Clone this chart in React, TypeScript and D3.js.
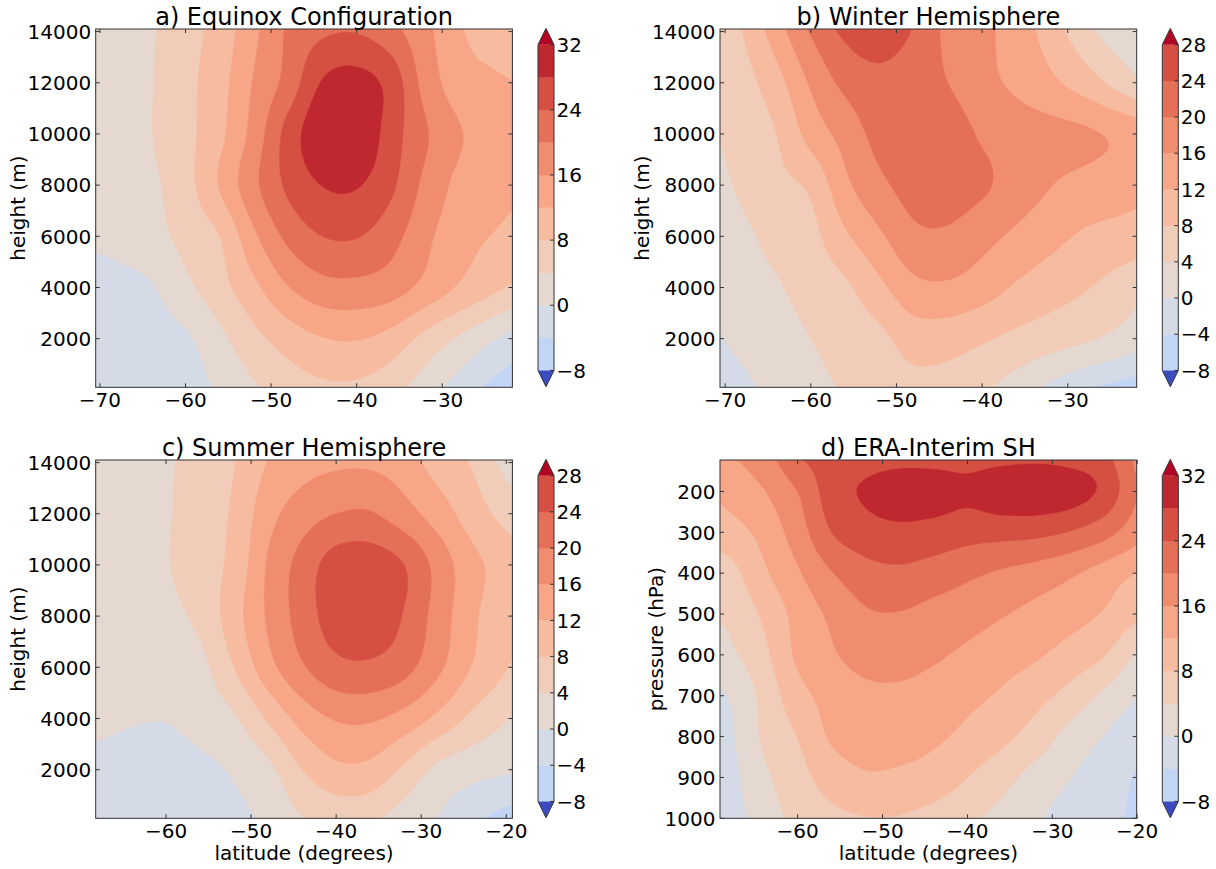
import React, { useMemo } from "react";
import * as d3 from "d3";

// ---------------------------------------------------------------------------
// Grid nodes
// ---------------------------------------------------------------------------
const LAT_NODES_AB = [-72, -68, -64, -60, -56, -52, -48, -44, -40, -36, -32, -28, -24, -20];
const LAT_NODES_C = [-72, -68, -64, -60, -56, -52, -48, -44, -40, -36, -32, -28, -24, -20, -16];
const LAT_NODES_D = [-72, -68, -64, -60, -56, -52, -48, -44, -40, -36, -32, -28, -24, -20];
// model levels, top row first (m)
const HEIGHT_NODES = [14100, 12000, 10000, 8000, 6000, 4000, 2000, 100];
// reanalysis levels, top row first (hPa)
const PRESSURE_NODES = [123, 200, 300, 400, 500, 600, 700, 800, 900, 1000];

// ---------------------------------------------------------------------------
// Zonal-mean zonal wind (m/s); rows follow the node arrays above
// ---------------------------------------------------------------------------
const U_EQUINOX = [
  [0.5, 1.5, 3.6, 6.5, 9.5, 15, 20.5, 23, 23.5, 21, 17, 12.5, 9, 7],
  [0.5, 1.5, 3.8, 6.8, 10.5, 16.3, 21.5, 28.3, 29.5, 26.5, 18.5, 14, 12.8, 11.5],
  [0.5, 1.5, 3.9, 6.8, 11, 17.5, 25.5, 31, 31.5, 26, 20.5, 16.3, 14.5, 13.8],
  [0.3, 1.3, 3.2, 6.5, 12.3, 19, 24.8, 28.1, 28.3, 24.8, 19, 15, 13.5, 12.5],
  [0.2, 1.0, 2.5, 5.2, 8, 15.2, 21, 24, 24.2, 21.5, 17, 13.5, 11.8, 10],
  [-1.5, -1.2, -0.3, 3, 6.5, 11, 15.8, 18.5, 18.8, 17.8, 14.8, 11.5, 8.8, 6.5],
  [-2.5, -2.4, -1.8, -0.6, 3, 6.8, 9.8, 11.8, 12.2, 10.5, 6.8, 3.5, 0.3, -2.8],
  [-3, -3, -2.8, -2, 0.6, 3.5, 5.8, 7.2, 7.2, 5.3, 2, -1.7, -5, -7],
];

const U_WINTER = [
  [6, 8.1, 14.3, 20.5, 25, 26.5, 23.8, 19, 17, 14, 10, 5, 1.5, 0.5],
  [5.5, 6.5, 10.5, 16.5, 21, 22.8, 21.8, 20, 17.2, 15.2, 12.8, 10, 6.5, 3],
  [3.5, 5.5, 8, 13.5, 17.5, 21.3, 22.5, 22, 19.5, 18, 17.3, 16.6, 15.2, 13.5],
  [2.5, 4.6, 7, 8.8, 15, 19, 21.5, 21.8, 20.6, 18.2, 16.1, 14.8, 13.8, 12.8],
  [2, 3.2, 5.3, 6.8, 11.3, 15.3, 19, 19.3, 17.3, 15.2, 13.2, 11.4, 10.5, 9.5],
  [1.2, 2, 3.6, 5.6, 7.3, 11, 14.8, 15.3, 13.8, 11.5, 9.7, 8.3, 6.3, 4.5],
  [-0.7, 0.8, 2.2, 4, 5.6, 7.0, 9.8, 9.7, 8.5, 7, 5.8, 4.5, 2.8, 0.2],
  [-1.8, -0.7, 1.2, 2.8, 4.4, 5.8, 6.6, 6.3, 4.6, 2.2, -0.8, -3.4, -5.2, -6.3],
];

const U_SUMMER = [
  [0.5, 1, 2, 3.5, 5.5, 7.8, 12, 14, 15, 15, 13.5, 10, 7.5, 2.5, 0],
  [0.5, 1, 2, 3.6, 6, 8.6, 14.5, 18, 20, 20.3, 17.6, 14, 10, 6.5, 3],
  [0.4, 1, 2, 3.7, 6.2, 9.2, 16.4, 21.5, 25.8, 26.2, 24, 18.5, 13.2, 10.3, 8],
  [0.3, 0.9, 1.8, 3, 5, 10.3, 16.5, 21.7, 26, 26.7, 23.7, 18.2, 12.8, 9.2, 7],
  [0.5, 0.8, 1.5, 2.5, 2.9, 8, 14.5, 19.5, 22.8, 23.2, 21.3, 16.8, 11.8, 8.2, 5],
  [1, 0.8, 0.3, 0.2, 1.5, 3.5, 8.5, 13.5, 16.3, 16.5, 14.5, 11, 7, 4.2, 1.5],
  [-1, -1.2, -1.8, -2, -1, 0.5, 3, 8, 11, 10.8, 7.2, 3, 1.4, 0.5, -0.5],
  [-2.2, -2.4, -2.8, -3, -2.5, -1, 0.7, 3.8, 5, 4.8, 2, -0.2, -3, -5.5, -7],
];

const U_ERA_INTERIM = [
  [13, 15.5, 18, 23.5, 25.5, 26.5, 27, 27, 26.8, 27.2, 27.5, 27, 25.5, 19],
  [11, 13.5, 15.8, 20, 26, 28.5, 30, 29.8, 28.9, 30.5, 31, 30, 27, 20],
  [8.5, 10.3, 13.3, 18, 24, 26.3, 27, 26.5, 25.5, 25.3, 25, 23.8, 21.5, 17.5],
  [5.5, 6.7, 11.3, 15.5, 19.8, 22.5, 23.2, 22.2, 20.8, 19.5, 18.3, 16.7, 14.3, 11.8],
  [3.8, 4.8, 8.7, 13.3, 16.8, 19.5, 19.8, 18.7, 17.7, 16.3, 14.9, 13.6, 11.7, 8.8],
  [1.5, 3.2, 7, 12.7, 15.5, 17.5, 17.6, 16.6, 15.2, 13.8, 12.5, 10.5, 8.3, 3.3],
  [-1.2, 0.2, 5.2, 10.5, 13.5, 15, 15.2, 14.3, 13, 11.5, 9.3, 6.7, 3.3, 0],
  [-2.2, -0.6, 4.6, 8.1, 12.5, 13.7, 13.6, 12.7, 11, 9, 6.3, 2.7, 0, -2.8],
  [-3, -1.2, 3.2, 6.5, 9.8, 11.5, 11.2, 10.2, 8, 5.5, 2.5, 0.2, -2.2, -4.3],
  [-3.5, -1.8, 2, 5, 6.8, 7.8, 7.7, 6.5, 5, 2.5, 0.5, -1.8, -3.2, -4.5],
];

// ---------------------------------------------------------------------------
// Ticks and contour levels
// ---------------------------------------------------------------------------
const LAT_TICKS_AB = [-70, -60, -50, -40, -30];
const LAT_TICKS_CD = [-60, -50, -40, -30, -20];
const HEIGHT_TICKS = [2000, 4000, 6000, 8000, 10000, 12000, 14000];
const PRESSURE_TICKS = [200, 300, 400, 500, 600, 700, 800, 900, 1000];
const LEVELS_TO_32 = [-8, -4, 0, 4, 8, 12, 16, 20, 24, 28, 32];
const LEVELS_TO_28 = [-8, -4, 0, 4, 8, 12, 16, 20, 24, 28];
const CBAR_LABELS_TO_32 = [-8, 0, 8, 16, 24, 32];
const CBAR_LABELS_TO_28 = [-8, -4, 0, 4, 8, 12, 16, 20, 24, 28];

// coolwarm diverging map, 33 stops spanning -32..32 m/s
const COOLWARM = [
  "#3b4cc0", "#445acc", "#4d68d7", "#5775e1", "#6282ea", "#6c8ef1", "#779af7", "#82a5fb",
  "#8db0fe", "#98b9ff", "#a3c2ff", "#aec9fd", "#b8d0f9", "#c2d5f4", "#ccd9ee", "#d5dbe6",
  "#dddddd", "#e5d8d1", "#ecd3c5", "#f1ccb9", "#f5c4ad", "#f7bba0", "#f7b194", "#f7a687",
  "#f49a7b", "#f18d6f", "#ec7f63", "#e57058", "#de604d", "#d55042", "#cb3e38", "#c0282f",
  "#b40426",
];
const color = d3
  .scaleLinear<string>()
  .domain(COOLWARM.map((_, i) => -32 + 2 * i))
  .range(COOLWARM)
  .interpolate(d3.interpolateRgb)
  .clamp(true);
const UNDER = color(-32);
const OVER = color(32);
const bandColor = (lo: number, hi: number) => color((lo + hi) / 2);

// ---------------------------------------------------------------------------
// Layout
// ---------------------------------------------------------------------------
const COL_LEFT = [95.7, 720];
const PLOT_W = 416.7;
const ROW_TOP = [29, 460];
const PLOT_H = 358.3;

const PANELS = [
  {
    id: "a", title: "a) Equinox Configuration", grid: U_EQUINOX, latNodes: LAT_NODES_AB, rowNodes: HEIGHT_NODES,
    xDomain: [-70.5, -21.8], yDomain: [100, 14100], xTicks: LAT_TICKS_AB, yTicks: HEIGHT_TICKS,
    levels: LEVELS_TO_32, cbarLabels: CBAR_LABELS_TO_32, ylabel: "height (m)", xlabel: null,
    col: 0, row: 0, ylabelOffset: 71,
  },
  {
    id: "b", title: "b) Winter Hemisphere", grid: U_WINTER, latNodes: LAT_NODES_AB, rowNodes: HEIGHT_NODES,
    xDomain: [-70.6, -21.95], yDomain: [100, 14100], xTicks: LAT_TICKS_AB, yTicks: HEIGHT_TICKS,
    levels: LEVELS_TO_28, cbarLabels: CBAR_LABELS_TO_28, ylabel: "height (m)", xlabel: null,
    col: 1, row: 0, ylabelOffset: 71,
  },
  {
    id: "c", title: "c) Summer Hemisphere", grid: U_SUMMER, latNodes: LAT_NODES_C, rowNodes: HEIGHT_NODES,
    xDomain: [-68.27, -19.28], yDomain: [100, 14100], xTicks: LAT_TICKS_CD, yTicks: HEIGHT_TICKS,
    levels: LEVELS_TO_28, cbarLabels: CBAR_LABELS_TO_28, ylabel: "height (m)", xlabel: "latitude (degrees)",
    col: 0, row: 1, ylabelOffset: 71,
  },
  {
    id: "d", title: "d) ERA-Interim SH", grid: U_ERA_INTERIM, latNodes: LAT_NODES_D, rowNodes: PRESSURE_NODES,
    xDomain: [-69.15, -20.06], yDomain: [1000, 123], xTicks: LAT_TICKS_CD, yTicks: PRESSURE_TICKS,
    levels: LEVELS_TO_32, cbarLabels: CBAR_LABELS_TO_32, ylabel: "pressure (hPa)", xlabel: "latitude (degrees)",
    col: 1, row: 1, ylabelOffset: 57.5,
  },
];

// ---------------------------------------------------------------------------
// Smooth refinement of the coarse grid (separable Catmull-Rom) for contouring
// ---------------------------------------------------------------------------
const REFINE = 12;

function catmull(p0: number, p1: number, p2: number, p3: number, t: number) {
  const t2 = t * t;
  const t3 = t2 * t;
  return 0.5 * (2 * p1 + (-p0 + p2) * t + (2 * p0 - 5 * p1 + 4 * p2 - p3) * t2 + (-p0 + 3 * p1 - 3 * p2 + p3) * t3);
}

function sample(grid: number[][], r: number, c: number): number {
  const R = grid.length;
  const C = grid[0].length;
  if (r < 0) return 2 * sample(grid, 0, c) - sample(grid, 1, c);
  if (r > R - 1) return 2 * sample(grid, R - 1, c) - sample(grid, R - 2, c);
  if (c < 0) return 2 * grid[r][0] - grid[r][1];
  if (c > C - 1) return 2 * grid[r][C - 1] - grid[r][C - 2];
  return grid[r][c];
}

function refine(grid: number[][], k: number) {
  const R = grid.length;
  const C = grid[0].length;
  const nx = (C - 1) * k + 1;
  const ny = (R - 1) * k + 1;
  const values = new Array(nx * ny);
  for (let j = 0; j < ny; j++) {
    const v = j / k;
    const r = Math.min(R - 2, Math.floor(v));
    const tv = v - r;
    for (let i = 0; i < nx; i++) {
      const u = i / k;
      const c = Math.min(C - 2, Math.floor(u));
      const tu = u - c;
      const col = [-1, 0, 1, 2].map((dr) =>
        catmull(sample(grid, r + dr, c - 1), sample(grid, r + dr, c), sample(grid, r + dr, c + 1), sample(grid, r + dr, c + 2), tu)
      );
      values[j * nx + i] = catmull(col[0], col[1], col[2], col[3], tv);
    }
  }
  return { nx, ny, values };
}

// fractional node index -> coordinate (piecewise linear, extrapolated at ends)
function nodeInterp(nodes: number[]) {
  return (f: number) => {
    const n = nodes.length;
    const i = Math.max(0, Math.min(n - 2, Math.floor(f)));
    const t = f - i;
    return nodes[i] + (nodes[i + 1] - nodes[i]) * t;
  };
}

const fmt = (v: number) => (v < 0 ? "\u2212" + Math.abs(v) : String(v));

const FONT = "'DejaVu Sans', 'Bitstream Vera Sans', sans-serif";
const AXIS_COLOR = "#333";

function ContourPanel({ spec }: { spec: any }) {
  const left = COL_LEFT[spec.col];
  const right = left + PLOT_W;
  const top = ROW_TOP[spec.row];
  const bottom = top + PLOT_H;

  const x = d3.scaleLinear().domain(spec.xDomain).range([left, right]);
  const y = d3.scaleLinear().domain(spec.yDomain).range([bottom, top]);

  const bands = useMemo(() => {
    const field = refine(spec.grid, REFINE);
    const colAt = nodeInterp(spec.latNodes);
    const rowAt = nodeInterp(spec.rowNodes);
    const proj = d3.geoTransform({
      point: function (px: number, py: number) {
        (this as any).stream.point(x(colAt((px - 0.5) / REFINE)), y(rowAt((py - 0.5) / REFINE)));
      },
    });
    const path = d3.geoPath(proj);
    const levels: number[] = spec.levels;
    const polys = d3.contours().size([field.nx, field.ny]).thresholds(levels)(field.values);
    return polys.map((c, i) => ({
      d: path(c as any) || "",
      fill: i < levels.length - 1 ? bandColor(levels[i], levels[i + 1]) : OVER,
    }));
  }, [spec]);

  const clipId = `clip-${spec.id}`;
  const tickLen = 4;

  // colorbar geometry
  const levels: number[] = spec.levels;
  const cbX0 = right + 25.6;
  const cbX1 = cbX0 + 16;
  const cbXm = (cbX0 + cbX1) / 2;
  const tipTop = top - 0.6;
  const tipBottom = bottom - 0.6;
  const total = tipBottom - tipTop;
  const triH = (total / 1.1) * 0.05;
  const barTop = tipTop + triH;
  const barBottom = tipBottom - triH;
  const cb = d3.scaleLinear().domain([levels[0], levels[levels.length - 1]]).range([barBottom, barTop]);

  return (
    <g>
      <defs>
        <clipPath id={clipId}>
          <rect x={left} y={top} width={right - left} height={bottom - top} />
        </clipPath>
      </defs>
      <g clipPath={`url(#${clipId})`}>
        <rect x={left} y={top} width={right - left} height={bottom - top} fill={UNDER} />
        {bands.map((b, i) => (
          <path key={i} d={b.d} fill={b.fill} stroke={b.fill} strokeWidth={0.4} />
        ))}
      </g>

      {/* frame and inward ticks on all sides */}
      <rect x={left} y={top} width={right - left} height={bottom - top} fill="none" stroke={AXIS_COLOR} strokeWidth={1} />
      {spec.xTicks.map((t: number) => (
        <g key={`xt${t}`} stroke={AXIS_COLOR} strokeWidth={1}>
          <line x1={x(t)} x2={x(t)} y1={bottom} y2={bottom - tickLen} />
          <line x1={x(t)} x2={x(t)} y1={top} y2={top + tickLen} />
        </g>
      ))}
      {spec.yTicks.map((t: number) => (
        <g key={`yt${t}`} stroke={AXIS_COLOR} strokeWidth={1}>
          <line x1={left} x2={left + tickLen} y1={y(t)} y2={y(t)} />
          <line x1={right} x2={right - tickLen} y1={y(t)} y2={y(t)} />
        </g>
      ))}
      <g fontFamily={FONT} fontSize={20} fill="#000">
        {spec.xTicks.map((t: number) => (
          <text key={`xl${t}`} x={x(t)} y={bottom + 20} textAnchor="middle">
            {fmt(t)}
          </text>
        ))}
        {spec.yTicks.map((t: number) => (
          <text key={`yl${t}`} x={left - 4.5} y={y(t)} dy="0.36em" textAnchor="end">
            {fmt(t)}
          </text>
        ))}
        <text
          transform={`translate(${left - spec.ylabelOffset},${(top + bottom) / 2}) rotate(-90)`}
          textAnchor="middle"
        >
          {spec.ylabel}
        </text>
        {spec.xlabel && (
          <text x={(left + right) / 2} y={bottom + 42} textAnchor="middle">
            {spec.xlabel}
          </text>
        )}
        <text x={(left + right) / 2} y={top - 4} textAnchor="middle" fontSize={24}>
          {spec.title}
        </text>
      </g>

      {/* colorbar */}
      <g>
        {levels.slice(0, -1).map((lo, i) => (
          <rect
            key={`cb${lo}`}
            x={cbX0}
            y={cb(levels[i + 1])}
            width={cbX1 - cbX0}
            height={cb(lo) - cb(levels[i + 1]) + 0.3}
            fill={bandColor(lo, levels[i + 1])}
          />
        ))}
        <polygon points={`${cbX0},${barTop} ${cbX1},${barTop} ${cbXm},${tipTop}`} fill={OVER} />
        <polygon points={`${cbX0},${barBottom} ${cbX1},${barBottom} ${cbXm},${tipBottom}`} fill={UNDER} />
        <path
          d={`M${cbX0},${barBottom} L${cbX0},${barTop} L${cbXm},${tipTop} L${cbX1},${barTop} L${cbX1},${barBottom} L${cbXm},${tipBottom} Z`}
          fill="none"
          stroke={AXIS_COLOR}
          strokeWidth={1}
        />
        {spec.cbarLabels.map((t: number) => (
          <line key={`cbt${t}`} x1={cbX1 - 4} x2={cbX1} y1={cb(t)} y2={cb(t)} stroke={AXIS_COLOR} strokeWidth={1} />
        ))}
        <g fontFamily={FONT} fontSize={20} fill="#000">
          {spec.cbarLabels.map((t: number) => (
            <text key={`cbl${t}`} x={cbX1 + 2.5} y={cb(t)} dy="0.36em">
              {fmt(t)}
            </text>
          ))}
        </g>
      </g>
    </g>
  );
}

export default function App() {
  return (
    <svg
      width={1216}
      height={869}
      viewBox="0 0 1216 869"
      style={{ position: "absolute", left: 0, top: 0, display: "block", background: "#fff" }}
    >
      <rect x={0} y={0} width={1216} height={869} fill="#fff" />
      {PANELS.map((p) => (
        <ContourPanel key={p.id} spec={p} />
      ))}
    </svg>
  );
}
